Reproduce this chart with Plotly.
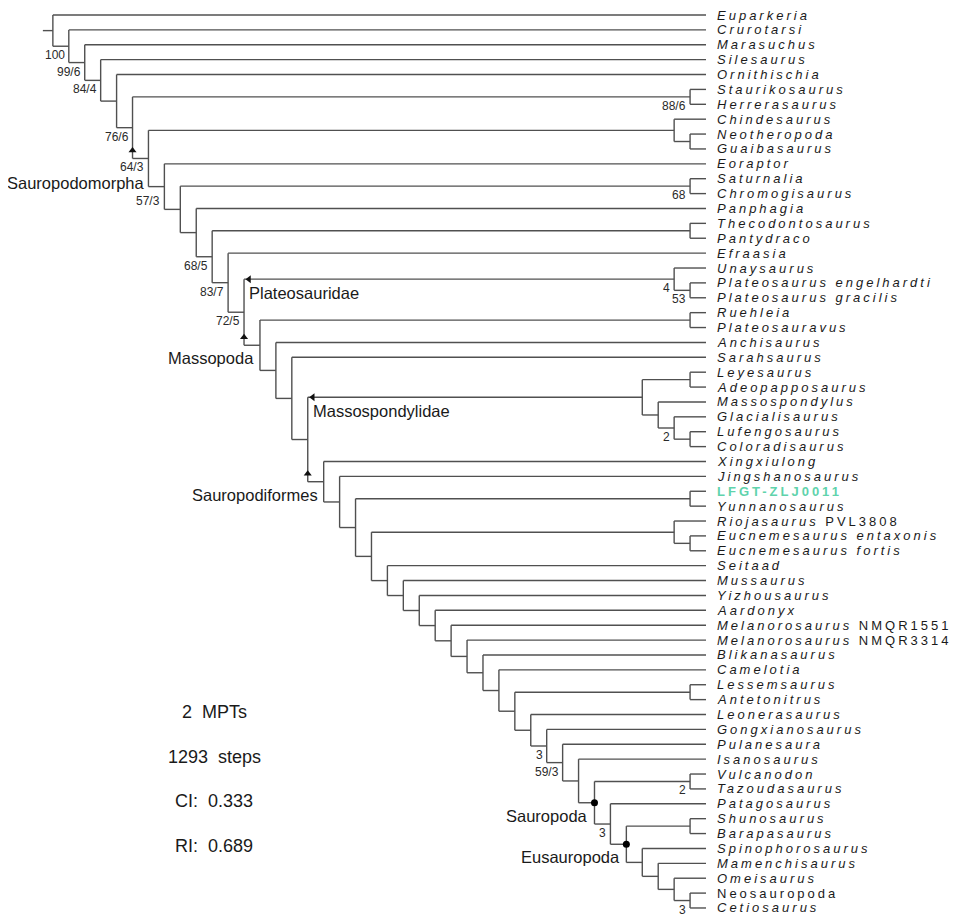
import plotly.graph_objects as go

# ---------------- data ----------------
# Backbone of the strict cladogram, from the root towards Cetiosaurus.
# Each entry is the side branch (Newick) that splits off at successive backbone nodes.
BACKBONE = [
    "Euparkeria", "Crurotarsi", "Marasuchus", "Silesaurus", "Ornithischia",
    "(Staurikosaurus,Herrerasaurus)",
    "(Chindesaurus,(Neotheropoda,Guaibasaurus))",
    "Eoraptor",
    "(Saturnalia,Chromogisaurus)",
    "Panphagia",
    "(Thecodontosaurus,Pantydraco)",
    "Efraasia",
    "(Unaysaurus,(Plateosaurus engelhardti,Plateosaurus gracilis))",
    "(Ruehleia,Plateosauravus)",
    "Anchisaurus", "Sarahsaurus",
    "((Leyesaurus,Adeopapposaurus),(Massospondylus,(Glacialisaurus,(Lufengosaurus,Coloradisaurus))))",
    "Xingxiulong", "Jingshanosaurus",
    "(LFGT-ZLJ0011,Yunnanosaurus)",
    "(Riojasaurus PVL3808,(Eucnemesaurus entaxonis,Eucnemesaurus fortis))",
    "Seitaad", "Mussaurus", "Yizhousaurus", "Aardonyx",
    "Melanorosaurus NMQR1551", "Melanorosaurus NMQR3314",
    "Blikanasaurus", "Camelotia",
    "(Lessemsaurus,Antetonitrus)",
    "Leonerasaurus", "Gongxianosaurus", "Pulanesaura", "Isanosaurus",
    "(Vulcanodon,Tazoudasaurus)",
    "Patagosaurus",
    "(Shunosaurus,Barapasaurus)",
    "Spinophorosaurus", "Mamenchisaurus", "Omeisaurus",
    "(Neosauropoda,Cetiosaurus)",
]

# support values: (label, taxon A, taxon B) -> node = MRCA(A, B)
SUPPORT = [
    ("100", "Crurotarsi", "Cetiosaurus"),
    ("99/6", "Marasuchus", "Cetiosaurus"),
    ("84/4", "Silesaurus", "Cetiosaurus"),
    ("76/6", "Staurikosaurus", "Cetiosaurus"),
    ("64/3", "Chindesaurus", "Cetiosaurus"),
    ("57/3", "Eoraptor", "Cetiosaurus"),
    ("68/5", "Thecodontosaurus", "Cetiosaurus"),
    ("83/7", "Efraasia", "Cetiosaurus"),
    ("72/5", "Unaysaurus", "Cetiosaurus"),
    ("88/6", "Staurikosaurus", "Herrerasaurus"),
    ("68", "Saturnalia", "Chromogisaurus"),
    ("4", "Unaysaurus", "Plateosaurus gracilis"),
    ("53", "Plateosaurus engelhardti", "Plateosaurus gracilis"),
    ("2", "Glacialisaurus", "Coloradisaurus"),
    ("3", "Gongxianosaurus", "Cetiosaurus"),
    ("59/3", "Pulanesaura", "Cetiosaurus"),
    ("2", "Vulcanodon", "Tazoudasaurus"),
    ("3", "Patagosaurus", "Cetiosaurus"),
    ("3", "Neosauropoda", "Cetiosaurus"),
]

# named clades: (name, taxon A, taxon B)
CLADES = [
    ("Sauropodomorpha", "Eoraptor", "Cetiosaurus"),
    ("Plateosauridae", "Unaysaurus", "Plateosaurus gracilis"),
    ("Massopoda", "Ruehleia", "Cetiosaurus"),
    ("Massospondylidae", "Leyesaurus", "Coloradisaurus"),
    ("Sauropodiformes", "Xingxiulong", "Cetiosaurus"),
    ("Sauropoda", "Vulcanodon", "Cetiosaurus"),
    ("Eusauropoda", "Shunosaurus", "Cetiosaurus"),
]
STEM_CLADES = ["Plateosauridae", "Massospondylidae"]          # marked by a left arrow
UP_ARROW_CLADES = [("Chindesaurus", "Cetiosaurus"), ("Ruehleia", "Cetiosaurus"),
                   ("Xingxiulong", "Cetiosaurus")]
NODE_DOT_CLADES = ["Sauropoda", "Eusauropoda"]

UPRIGHT_TAXA = ["Neosauropoda"]
NEW_SPECIMEN = "LFGT-ZLJ0011"

STATS = ["2\u00a0\u00a0MPTs", "1293\u00a0\u00a0steps", "CI:\u00a0\u00a00.333", "RI:\u00a0\u00a00.689"]

# ---------------- style / layout constants ----------------
PAGE_OFF = 8                          # default body margin of the html page
W, H = 960 - PAGE_OFF, 924 - PAGE_OFF
TIP_PX, STEP_PX = 706.0 - PAGE_OFF, 15.93   # pixel of tips, pixel per cladogram level
ROW0_PX, ROW_PX = 15.0 - PAGE_OFF, 14.883   # first row pixel, row spacing
LINE_COL = "#505050"
TXT_COL = "#1a1a1a"
FONT = "Liberation Sans, Arial, Helvetica, sans-serif"
GREEN = "#5fd3ac"


def parse(s):
    s = s.strip()
    pos = 0

    def node():
        nonlocal pos
        if s[pos] == "(":
            pos += 1
            kids = [node()]
            while s[pos] == ",":
                pos += 1
                kids.append(node())
            pos += 1
            return kids
        start = pos
        while pos < len(s) and s[pos] not in ",()":
            pos += 1
        return s[start:pos].strip()

    return node()


tree = parse(BACKBONE[-1])
for side in reversed(BACKBONE[:-1]):
    tree = [parse(side), tree]

tips, nodes = [], []


def build(t):
    if isinstance(t, str):
        n = {"name": t, "kids": [], "h": 0, "y": float(len(tips)), "tips": {t}}
        tips.append(t)
    else:
        kids = [build(c) for c in t]
        n = {"name": None, "kids": kids, "h": 1 + max(k["h"] for k in kids),
             "y": (kids[0]["y"] + kids[-1]["y"]) / 2,
             "tips": set().union(*[k["tips"] for k in kids])}
        for k in kids:
            k["parent"] = n
    n["x"] = -n["h"]
    nodes.append(n)
    return n


root = build(tree)


def mrca(a, b):
    cands = [n for n in nodes if a in n["tips"] and b in n["tips"]]
    return min(cands, key=lambda n: len(n["tips"]))


# ---------------- branches ----------------
xs, ys = [], []
stem = 10.0 / STEP_PX
xs += [root["x"] - stem, root["x"], None]
ys += [root["y"], root["y"], None]
for n in nodes:
    if n["kids"]:
        xs += [n["x"], n["x"], None]
        ys += [n["kids"][0]["y"], n["kids"][-1]["y"], None]
        for k in n["kids"]:
            xs += [n["x"], k["x"], None]
            ys += [k["y"], k["y"], None]

fig = go.Figure()
fig.add_trace(go.Scatter(x=xs, y=ys, mode="lines",
                         line=dict(color=LINE_COL, width=1.4),
                         hoverinfo="skip", showlegend=False))

# markers
up_x, up_y = [], []
for a, b in UP_ARROW_CLADES:
    c = mrca(a, b)
    up_x.append(c["parent"]["x"])
    up_y.append(c["y"] - 8.0 / ROW_PX)
fig.add_trace(go.Scatter(x=up_x, y=up_y, mode="markers",
                         marker=dict(symbol="triangle-up", size=7, color="#111"),
                         hoverinfo="skip", showlegend=False))

clade_nodes = {name: mrca(a, b) for name, a, b in CLADES}
lx, ly = [], []
for name in STEM_CLADES:
    c = clade_nodes[name]
    lx.append(c["parent"]["x"] + 5.0 / STEP_PX)
    ly.append(c["y"])
fig.add_trace(go.Scatter(x=lx, y=ly, mode="markers",
                         marker=dict(symbol="triangle-left", size=7, color="#111"),
                         hoverinfo="skip", showlegend=False))

dx_, dy_ = [], []
for name in NODE_DOT_CLADES:
    c = clade_nodes[name]
    dx_.append(c["x"])
    dy_.append(c["y"])
fig.add_trace(go.Scatter(x=dx_, y=dy_, mode="markers",
                         marker=dict(symbol="circle", size=7, color="#000"),
                         hoverinfo="skip", showlegend=False))

# ---------------- text ----------------
ann = []
for t in tips:
    n = next(m for m in nodes if m["name"] == t)
    color = TXT_COL
    parts = t.split(" ")
    if t == NEW_SPECIMEN:
        txt = "<b>%s</b>" % t
        color = GREEN
    elif t in UPRIGHT_TAXA:
        txt = t
    elif len(parts) > 1 and any(ch.isdigit() for ch in parts[-1]):
        txt = "<i>%s</i> %s" % (" ".join(parts[:-1]), parts[-1])
    else:
        txt = "<i>%s</i>" % t
    ann.append(dict(x=n["x"], y=n["y"], xref="x", yref="y",
                    text='<span style="letter-spacing:3px">%s</span>' % txt,
                    showarrow=False, xanchor="left", yanchor="middle", xshift=9,
                    font=dict(family=FONT, size=13, color=color)))

for lab, a, b in SUPPORT:
    n = mrca(a, b)
    ysh = -14 if lab == "57/3" else -9
    ann.append(dict(x=n["x"], y=n["y"], xref="x", yref="y", text=lab,
                    showarrow=False, xanchor="right", yanchor="middle",
                    xshift=-2, yshift=ysh,
                    font=dict(family=FONT, size=12, color="#2a2a2a")))

for name, a, b in CLADES:
    c = clade_nodes[name]
    if name in STEM_CLADES:
        ann.append(dict(x=c["parent"]["x"], y=c["y"], xref="x", yref="y", text=name,
                        showarrow=False, xanchor="left", yanchor="middle",
                        xshift=3, yshift=-14,
                        font=dict(family=FONT, size=16.5, color=TXT_COL)))
    elif name == "Sauropodomorpha":
        ann.append(dict(x=c["x"], y=c["y"], xref="x", yref="y", text=name,
                        showarrow=False, xanchor="right", yanchor="middle",
                        xshift=-17, yshift=4,
                        font=dict(family=FONT, size=16.5, color=TXT_COL)))
    else:
        ann.append(dict(x=c["x"], y=c["y"], xref="x", yref="y", text=name,
                        showarrow=False, xanchor="right", yanchor="middle",
                        xshift=-4, yshift=-13,
                        font=dict(family=FONT, size=16.5, color=TXT_COL)))

for i, s in enumerate(STATS):
    ann.append(dict(x=(214.0 - PAGE_OFF) / W, y=1 - (712.0 - PAGE_OFF + 44.5 * i) / H,
                    xref="paper", yref="paper",
                    text=s, showarrow=False, xanchor="center", yanchor="middle",
                    font=dict(family=FONT, size=18, color=TXT_COL)))

fig.update_layout(
    width=W, height=H, margin=dict(l=0, r=0, t=0, b=0),
    paper_bgcolor="white", plot_bgcolor="white",
    xaxis=dict(range=[-TIP_PX / STEP_PX, (W - TIP_PX) / STEP_PX], visible=False, fixedrange=True),
    yaxis=dict(range=[(H - ROW0_PX) / ROW_PX, -ROW0_PX / ROW_PX], visible=False, fixedrange=True),
    annotations=ann, showlegend=False,
)

fig.write_html("out.html")
